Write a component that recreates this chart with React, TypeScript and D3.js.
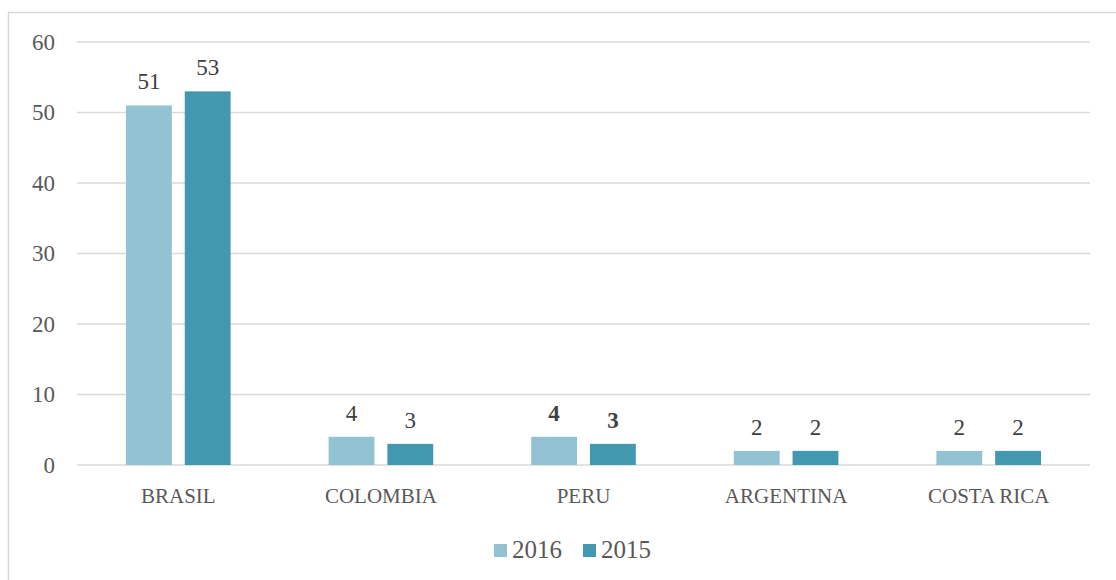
import React, { useEffect, useRef } from "react";
import * as d3 from "d3";

const categories = ["BRASIL", "COLOMBIA", "PERU", "ARGENTINA", "COSTA RICA"];
const seriesNames = ["2016", "2015"];
const values2016 = [51, 4, 4, 2, 2];
const values2015 = [53, 3, 3, 2, 2];
const yTicks = [0, 10, 20, 30, 40, 50, 60];
const boldCategories = ["PERU"];

const colors = ["#93c3d3", "#4198af"];
const font = "'Liberation Serif', 'DejaVu Serif', serif";

const App = () => {
  const ref = useRef<SVGSVGElement>(null);

  useEffect(() => {
    const width = 1116;
    const height = 580;
    const svg = d3.select(ref.current);
    svg.selectAll("*").remove();

    // chart frame
    svg
      .append("rect")
      .attr("x", 8.5)
      .attr("y", 12.5)
      .attr("width", width + 10)
      .attr("height", height + 10)
      .attr("fill", "#fff")
      .attr("stroke", "#d9d9d9")
      .attr("stroke-width", 1.5);

    const x = d3.scaleBand().domain(categories).range([77, 1090]).paddingInner(0).paddingOuter(0);
    const xs = d3.scaleBand().domain(seriesNames).range([49, x.bandwidth() - 49]).paddingInner(0.22);
    const y = d3.scaleLinear().domain([0, 60]).range([465, 42]);

    // gridlines
    svg
      .append("g")
      .selectAll("line")
      .data(yTicks)
      .join("line")
      .attr("x1", 77)
      .attr("x2", 1090)
      .attr("y1", (d) => y(d))
      .attr("y2", (d) => y(d))
      .attr("stroke", "#d9d9d9")
      .attr("stroke-width", 1.5);

    // y tick labels
    svg
      .append("g")
      .selectAll("text")
      .data(yTicks)
      .join("text")
      .attr("x", 55)
      .attr("y", (d) => y(d))
      .attr("dy", "0.33em")
      .attr("text-anchor", "end")
      .attr("font-family", font)
      .attr("font-size", 23)
      .attr("fill", "#595959")
      .text((d) => d);

    const series = [values2016, values2015];
    series.forEach((vals, si) => {
      const g = svg.append("g");
      g.selectAll("rect")
        .data(vals)
        .join("rect")
        .attr("x", (_, i) => x(categories[i])! + xs(seriesNames[si])!)
        .attr("y", (d) => y(d))
        .attr("width", xs.bandwidth())
        .attr("height", (d) => y(0) - y(d))
        .attr("fill", colors[si]);

      g.selectAll("text")
        .data(vals)
        .join("text")
        .attr("x", (_, i) => x(categories[i])! + xs(seriesNames[si])! + xs.bandwidth() / 2)
        .attr("y", (d) => y(d) - 16)
        .attr("text-anchor", "middle")
        .attr("font-family", font)
        .attr("font-size", 23)
        .attr("font-weight", (_, i) => (boldCategories.includes(categories[i]) ? "bold" : "normal"))
        .attr("fill", "#404040")
        .text((d) => d);
    });

    // category labels
    svg
      .append("g")
      .selectAll("text")
      .data(categories)
      .join("text")
      .attr("x", (d) => x(d)! + x.bandwidth() / 2)
      .attr("y", 503)
      .attr("text-anchor", "middle")
      .attr("font-family", font)
      .attr("font-size", 21)
      .attr("fill", "#595959")
      .text((d) => d);

    // legend
    const legend = svg.append("g");
    const legendX = [494, 583];
    seriesNames.forEach((name, i) => {
      legend
        .append("rect")
        .attr("x", legendX[i])
        .attr("y", 544)
        .attr("width", 13)
        .attr("height", 13)
        .attr("fill", colors[i]);
      legend
        .append("text")
        .attr("x", legendX[i] + 18)
        .attr("y", 558)
        .attr("font-family", font)
        .attr("font-size", 25)
        .attr("fill", "#595959")
        .text(name);
    });
  }, []);

  return (
    <svg
      ref={ref}
      width={1116}
      height={580}
      style={{ position: "absolute", left: 0, top: 0, display: "block" }}
    />
  );
};

export default App;
